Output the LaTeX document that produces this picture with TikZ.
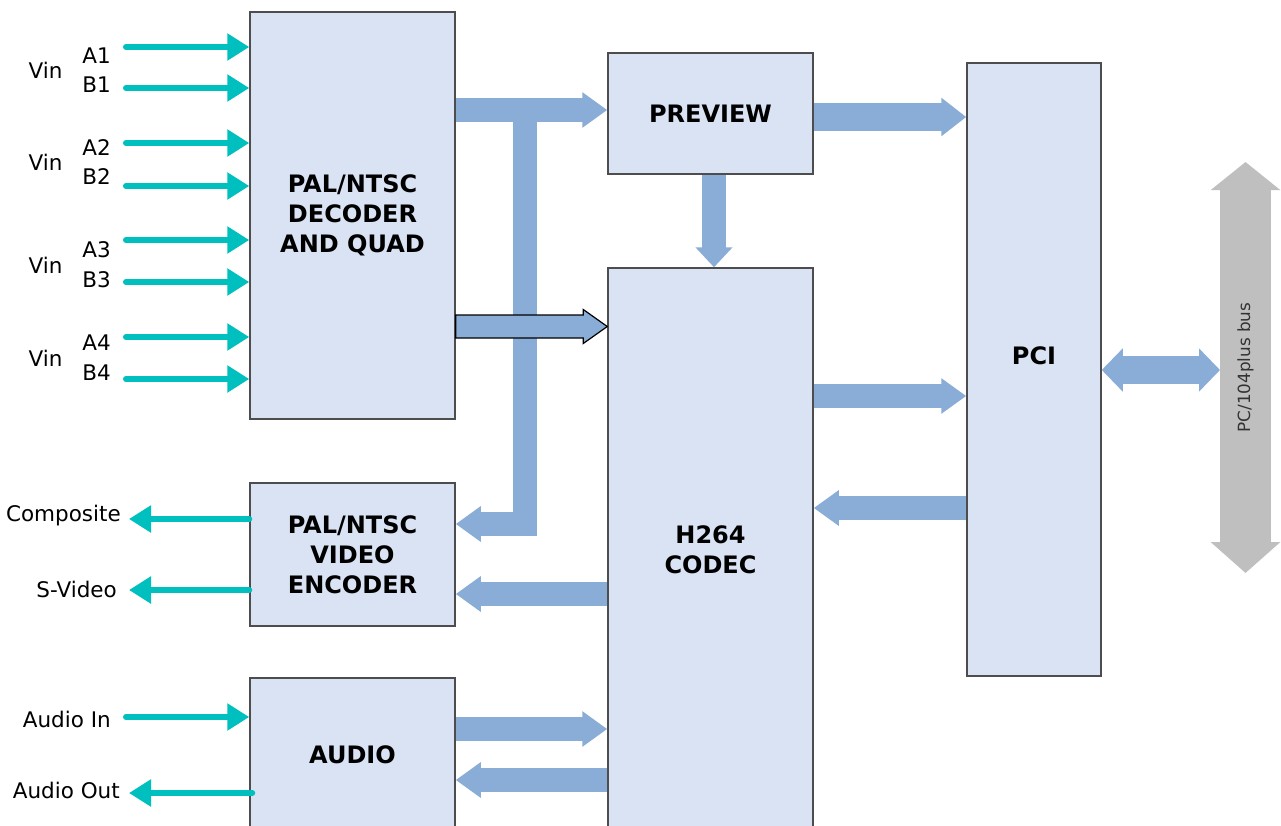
\documentclass[tikz,border=0pt]{standalone}
\usepackage{fontspec}
\setmainfont{DejaVu Sans}
\usetikzlibrary{arrows.meta, calc}
\usepackage{xcolor}
\definecolor{blkfill}{HTML}{DAE3F3}
\definecolor{blkline}{HTML}{4D4D4D}
\definecolor{sigteal}{HTML}{00BFBF}
\definecolor{flowblue}{HTML}{8AADD7}
\definecolor{busgray}{HTML}{BFBFBF}

\begin{document}
\begin{tikzpicture}[x=1pt, y=-1pt,
    blk/.style={draw=blkline, line width=1.5pt, fill=blkfill, align=center,
      font=\fontsize{24}{30}\selectfont\bfseries, inner sep=0pt, minimum width=205pt},
    lbl/.style={font=\fontsize{21.5}{26}\selectfont, inner sep=0pt},
    sig/.style={draw=sigteal, line width=6pt, line cap=round, -{Triangle[length=22pt,width=26pt]}},
    fat/.style={draw=flowblue, line width=24pt, -{Triangle[length=25pt,width=34pt]}},
  ]
    \clip (0,0) rectangle (1281,825);
    \fill[white] (0,0) rectangle (1281,825);

    % blocks
    \node[blk, minimum height=407pt] (dec) at (352.5,215.5) {PAL/NTSC\\DECODER\\AND QUAD};
    \node[blk, minimum height=121pt] (prev) at (710.5,113.5) {PREVIEW};
    \node[blk, minimum height=564pt] (h264) at (710.5,550) {H264\\CODEC};
    \node[blk, minimum width=134pt, minimum height=613pt, text depth=28pt] (pci) at (1034,369.5) {PCI};
    \node[blk, minimum height=143pt] (enc) at (352.5,554.5) {PAL/NTSC\\VIDEO\\ENCODER};
    \node[blk, minimum height=154pt] (aud) at (352.5,755) {AUDIO};

    % rows and columns of the data paths
    \coordinate (yDP) at (0,110);
    \coordinate (yPP) at (0,117);
    \coordinate (yHQ) at (0,326.5);
    \coordinate (yBus) at (0,370);
    \coordinate (yHP) at (0,396);
    \coordinate (yPH) at (0,508);
    \coordinate (yEnc) at (0,524);
    \coordinate (yHE) at (0,594);
    \coordinate (yAH) at (0,729);
    \coordinate (yHA) at (0,780);
    \coordinate (xPH) at (714,0);
    \coordinate (tee) at (525,110);

    % PC/104plus bus
    \coordinate (busN) at (1245.5,162);
    \coordinate (busS) at (1245.5,573);
    \draw[draw=busgray, line width=51pt, {Triangle[length=28pt,width=68pt]}-{Triangle[length=31pt,width=68pt]}] (busN) -- (busS);
    \node[lbl, rotate=90, font=\fontsize{16.8}{20}\selectfont, text=black!80] (buslbl) at ($(busN)!0.5!(busS)$) {PC/104plus bus};

    % data paths
    \draw[fat] (dec.east |- yDP) -- (prev.west |- yDP);
    \draw[fat, line join=miter] (tee) |- (enc.east |- yEnc);
    \draw[fat, line width=28pt, -{Triangle[length=25pt,width=37pt]}] (prev.east |- yPP) -- (pci.west |- yPP);
    \draw[fat, -{Triangle[length=20pt,width=36pt]}] (prev.south -| xPH) -- (h264.north -| xPH);
    \draw[fat] (h264.east |- yHP) -- (pci.west |- yHP);
    \draw[fat] (pci.west |- yPH) -- (h264.east |- yPH);
    \draw[fat] (h264.west |- yHE) -- (enc.east |- yHE);
    \draw[fat] (aud.east |- yAH) -- (h264.west |- yAH);
    \draw[fat] (h264.west |- yHA) -- (aud.east |- yHA);
    \draw[fat, line width=28pt, {Triangle[length=21pt,width=42pt]}-{Triangle[length=21pt,width=42pt]}]
      (pci.east |- yBus) -- ($(busN |- yBus)+(-25.5,0)$);
    % outlined path decoder -> codec
    \coordinate (qs) at (dec.east |- yHQ);
    \coordinate (qt) at (h264.west |- yHQ);
    \draw[fill=flowblue, draw=black, line width=1.2pt, line join=miter]
      ($(qs)+(0,-11.5)$) -- ($(qt)+(-24,-11.5)$) -- ($(qt)+(-24,-17)$) -- (qt)
      -- ($(qt)+(-24,17)$) -- ($(qt)+(-24,11.5)$) -- ($(qs)+(0,11.5)$) -- cycle;

    % video inputs
    \foreach \n/\y/\b in {A1/47/63, B1/88/92, A2/143/155, B2/186/184, A3/240/257, B3/282/287, A4/337/350, B4/379/380} {
      \coordinate (in\n) at (126,\y);
      \draw[sig] (in\n) -- (dec.west |- in\n);
      \node[lbl, anchor=base] (lbl\n) at (96.5,\b) {\n};
    }
    \foreach \i/\b in {1/78, 2/170, 3/273, 4/366}
      \node[lbl, anchor=base] (vin\i) at (45.5,\b) {Vin};

    % video outputs
    \coordinate (outComp) at (129,519);
    \coordinate (outSV) at (129,590);
    \draw[sig] (enc.west |- outComp) -- (outComp);
    \draw[sig] (enc.west |- outSV) -- (outSV);
    \node[lbl, anchor=base east] (lblComp) at (121,521) {Composite};
    \node[lbl, anchor=base east] (lblSV) at (117,597) {S-Video};

    % audio
    \coordinate (inAud) at (126,717);
    \coordinate (outAud) at (129,793);
    \draw[sig] (inAud) -- (aud.west |- inAud);
    \draw[sig] ($(aud.west |- outAud)+(3,0)$) -- (outAud);
    \node[lbl, anchor=base east] (lblAin) at (111,727) {Audio In};
    \node[lbl, anchor=base east] (lblAout) at (120,798) {Audio Out};
  \end{tikzpicture}
\end{document}
